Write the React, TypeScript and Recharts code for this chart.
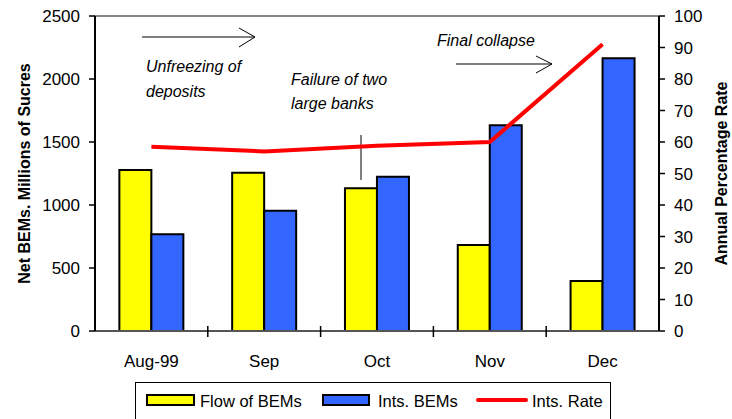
import React from 'react';
import { ComposedChart, Bar, Line, XAxis, YAxis, ReferenceLine, Legend, Customized } from 'recharts';

const months = ['Aug-99', 'Sep', 'Oct', 'Nov', 'Dec'];
const flowBEMs = [1278, 1256, 1132, 683, 397];
const intsBEMs = [767, 955, 1225, 1632, 2164];
const intsRate = [58.5, 57, 58.8, 60, 91];
const leftTicks = [0, 500, 1000, 1500, 2000, 2500];
const rightTicks = [0, 10, 20, 30, 40, 50, 60, 70, 80, 90, 100];

const FONT = '"Liberation Sans", Arial, sans-serif';

const data = months.map((m, i) => ({
  month: m,
  flow: flowBEMs[i],
  ints: intsBEMs[i],
  rate: intsRate[i],
}));

// category label in the middle, tick mark on the boundary between categories
const XTick = (props: any) => {
  const { x, y, payload, index, width, visibleTicksCount } = props;
  const half = width / visibleTicksCount / 2;
  return (
    <g>
      {index > 0 && <line x1={x - half} x2={x - half} y1={y - 5} y2={y + 6} stroke="#000" strokeWidth={1.5} />}
      <text x={x} y={y + 36} textAnchor="middle" fontSize={17} fontFamily={FONT} fill="#000">
        {payload.value}
      </text>
    </g>
  );
};

const renderLegend = () => (
  <div
    style={{
      position: 'relative',
      width: 476,
      height: 44,
      border: '1px solid #000',
      boxSizing: 'border-box',
      fontFamily: FONT,
      fontSize: 16.5,
      color: '#000',
      background: '#fff',
    }}
  >
    <div style={{ position: 'absolute', left: 10, top: 11, width: 49, height: 12, background: '#ffff00', border: '2px solid #000', boxSizing: 'border-box' }} />
    <div style={{ position: 'absolute', left: 64, top: 8, lineHeight: '20px' }}>Flow of BEMs</div>
    <div style={{ position: 'absolute', left: 186, top: 11, width: 48, height: 12, background: '#3366ff', border: '2px solid #000', boxSizing: 'border-box' }} />
    <div style={{ position: 'absolute', left: 242, top: 8, lineHeight: '20px' }}>Ints. BEMs</div>
    <div style={{ position: 'absolute', left: 340, top: 15, width: 52, height: 4, background: '#ff0000', borderRadius: 2 }} />
    <div style={{ position: 'absolute', left: 396, top: 8, lineHeight: '20px' }}>Ints. Rate</div>
  </div>
);

const Annotations = () => (
  <g fontFamily={FONT} fontStyle="italic" fontSize={16} fill="#000">
    <line x1={142} y1={37} x2={255} y2={37} stroke="#000" strokeWidth={1} />
    <polyline points="239,28 255,37 239,47" fill="none" stroke="#000" strokeWidth={1} />
    <text x={146} y={72}>Unfreezing of</text>
    <text x={146} y={97}>deposits</text>
    <text x={291} y={85}>Failure of two</text>
    <text x={291} y={109}>large banks</text>
    <line x1={361} y1={135} x2={361} y2={180} stroke="#000" strokeWidth={1} />
    <text x={437} y={46}>Final collapse</text>
    <line x1={456} y1={64} x2={552} y2={64} stroke="#000" strokeWidth={1} />
    <polyline points="536,56 552,64 536,73" fill="none" stroke="#000" strokeWidth={1} />
  </g>
);

export default function App() {
  return (
    <div style={{ position: 'absolute', left: 0, top: 0, width: 732, height: 419, background: '#fff', overflow: 'hidden' }}>
      <ComposedChart
        width={732}
        height={419}
        data={data}
        margin={{ top: 16, right: 0, bottom: 0, left: 0 }}
        barCategoryGap="21.6%"
        barGap={0}
      >
        <XAxis
          dataKey="month"
          xAxisId="x"
          height={44}
          axisLine={{ stroke: '#555', strokeWidth: 2 }}
          tickLine={false}
          tickSize={0}
          tickMargin={0}
          tick={<XTick />}
          interval={0}
        />
        <YAxis
          yAxisId="left"
          width={95}
          domain={[0, 2500]}
          ticks={leftTicks}
          interval={0}
          axisLine={{ stroke: '#000', strokeWidth: 2 }}
          tickLine={{ stroke: '#000', strokeWidth: 1.5 }}
          tickSize={6}
          tickMargin={9}
          tick={{ fill: '#000', fontSize: 17, fontFamily: FONT }}
          label={{
            value: 'Net BEMs. Millions of Sucres',
            angle: -90,
            position: 'center',
            dx: -23,
            style: { fontSize: 16, fontWeight: 'bold', fontFamily: FONT, fill: '#000' },
          }}
        />
        <YAxis
          yAxisId="right"
          orientation="right"
          width={73}
          domain={[0, 100]}
          ticks={rightTicks}
          interval={0}
          axisLine={{ stroke: '#000', strokeWidth: 2 }}
          tickLine={{ stroke: '#000', strokeWidth: 1.5 }}
          tickSize={6}
          tickMargin={9}
          tick={{ fill: '#000', fontSize: 17, fontFamily: FONT }}
          label={{
            value: 'Annual Percentage Rate',
            angle: -90,
            position: 'center',
            dx: 26,
            style: { fontSize: 16, fontWeight: 'bold', fontFamily: FONT, fill: '#000' },
          }}
        />
        <ReferenceLine yAxisId="left" xAxisId="x" y={2500} stroke="#888" strokeWidth={2} />
        <Bar
          xAxisId="x"
          yAxisId="left"
          dataKey="flow"
          name="Flow of BEMs"
          fill="#ffff00"
          stroke="#000"
          strokeWidth={2}
          isAnimationActive={false}
        />
        <Bar
          xAxisId="x"
          yAxisId="left"
          dataKey="ints"
          name="Ints. BEMs"
          fill="#3366ff"
          stroke="#000"
          strokeWidth={2}
          isAnimationActive={false}
        />
        <Line
          xAxisId="x"
          yAxisId="right"
          dataKey="rate"
          name="Ints. Rate"
          stroke="#ff0000"
          strokeWidth={4}
          dot={false}
          activeDot={false}
          isAnimationActive={false}
        />
        <Legend
          content={renderLegend}
          verticalAlign="bottom"
          wrapperStyle={{ left: 135, top: 382, width: 476, height: 44 }}
        />
        <Customized component={Annotations} />
      </ComposedChart>
    </div>
  );
}
